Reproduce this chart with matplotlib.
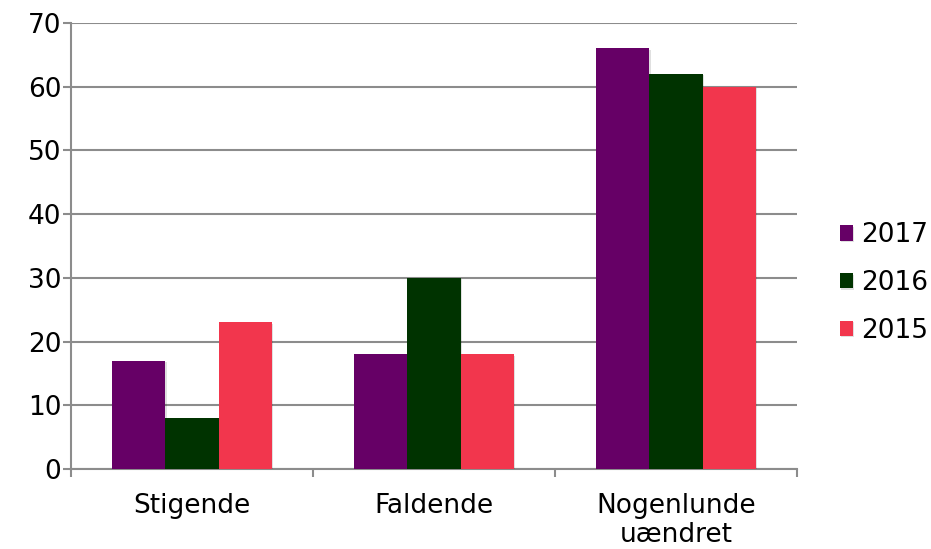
import matplotlib
matplotlib.use("Agg")
import matplotlib.pyplot as plt
import matplotlib.patheffects as pe
import numpy as np

categories = ["Stigende", "Faldende", "Nogenlunde\nuændret"]
series_names = ["2017", "2016", "2015"]
values_2017 = [17, 18, 66]
values_2016 = [8, 30, 62]
values_2015 = [23, 18, 60]
colors = ["#660066", "#003300", "#F2364D"]
yticks = [0, 10, 20, 30, 40, 50, 60, 70]

plt.rcParams["font.family"] = ["DejaVu Sans"]

fig = plt.figure(figsize=(9.31, 5.49), dpi=100)
ax = fig.add_axes([0.0763, 0.1457, 0.7797, 0.8124])

grid_color = "#8c8c8c"
fs = 19
x = np.arange(len(categories))
bar_w = 0.22
shadow = [pe.SimplePatchShadow(offset=(1, -1), shadow_rgbFace="#000000", alpha=0.12), pe.Normal()]
for i, (vals, name) in enumerate(zip([values_2017, values_2016, values_2015], series_names)):
    ax.bar(x + (i - 1) * bar_w, vals, width=bar_w, color=colors[i], label=name,
           zorder=3, path_effects=shadow)

ax.set_xlim(-0.5, len(categories) - 0.5)
ax.set_ylim(0, 70)
ax.set_yticks(yticks)
ax.set_yticklabels([str(v) for v in yticks], fontsize=fs)
ax.yaxis.grid(True, color=grid_color, linewidth=1.5, zorder=0)
ax.set_axisbelow(True)

# category labels centered, ticks at category boundaries
ax.set_xticks(x)
ax.set_xticklabels(categories, fontsize=fs, linespacing=1.12)
ax.tick_params(axis="x", length=0, pad=17.5)
ax.set_xticks(np.arange(len(categories) + 1) - 0.5, minor=True)
ax.tick_params(axis="x", which="minor", length=6, width=1.5, color=grid_color)
ax.tick_params(axis="y", length=6, width=1.5, color=grid_color, pad=1)

for s in ["top", "right"]:
    ax.spines[s].set_visible(False)
for s in ["left", "bottom"]:
    ax.spines[s].set_color(grid_color)
    ax.spines[s].set_linewidth(1.5)

leg = ax.legend(loc="center left", bbox_to_anchor=(1.059, 0.417), frameon=False,
                fontsize=fs, handlelength=0.5, handleheight=0.5,
                handletextpad=0.3, labelspacing=0.82, borderpad=0, borderaxespad=0)

fig.savefig("out.png", dpi=100, facecolor="white")
